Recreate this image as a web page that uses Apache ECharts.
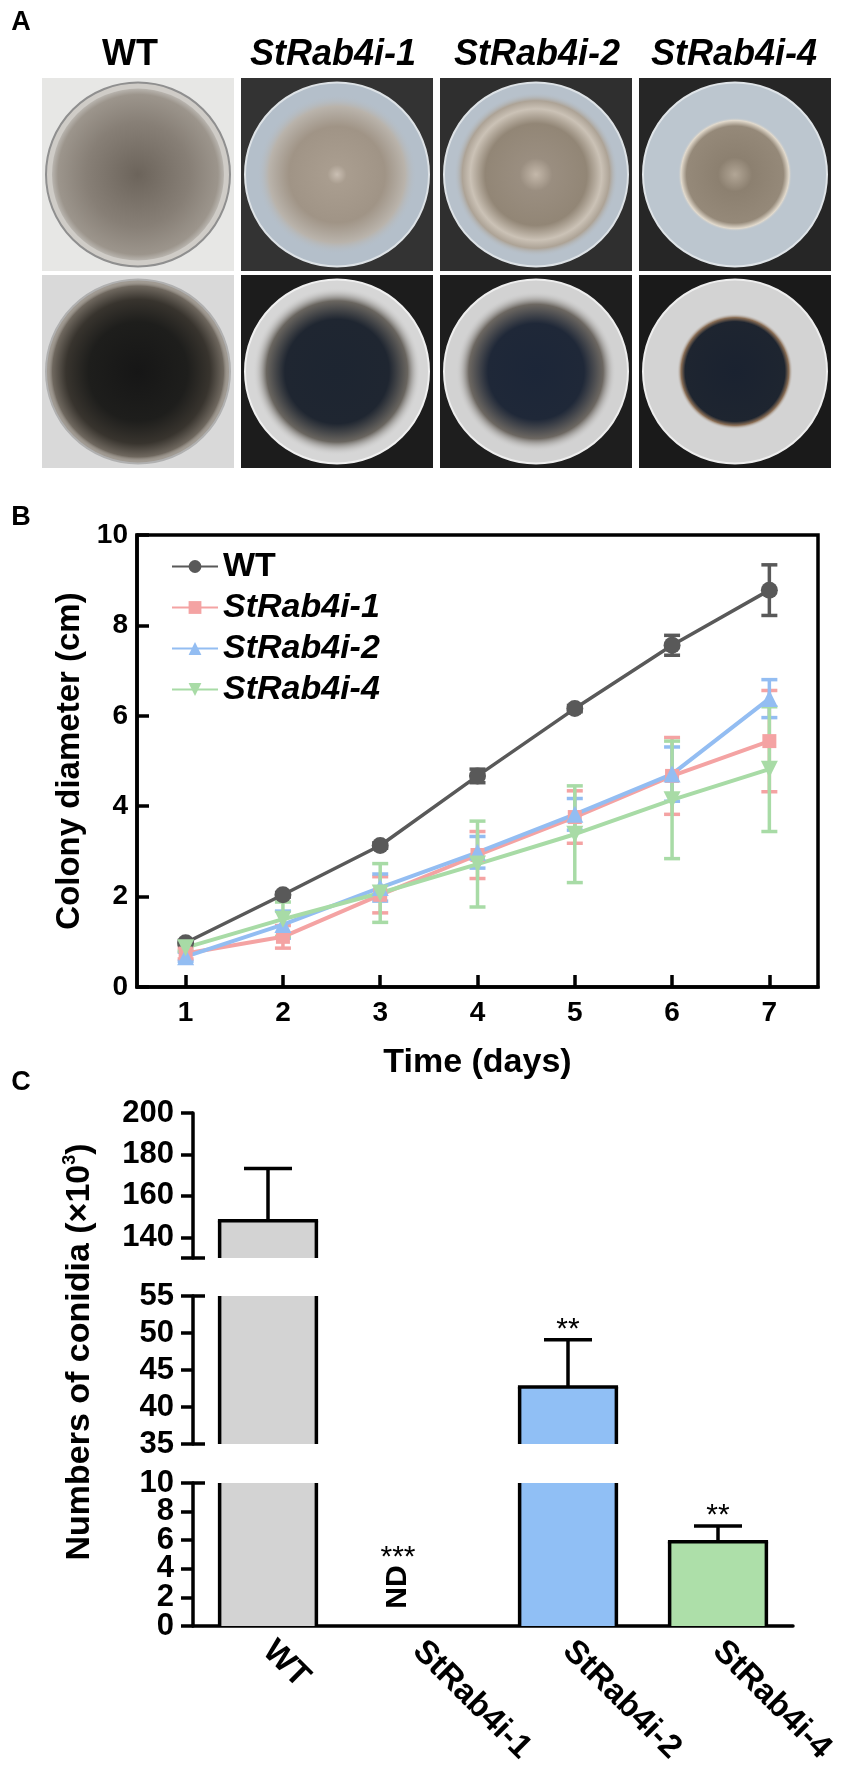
<!DOCTYPE html>
<html>
<head>
<meta charset="utf-8">
<script src="https://cdn.jsdelivr.net/npm/echarts@6/dist/echarts.min.js"></script>
<style>
  html, body { margin: 0; padding: 0; background: #fff; }
  #main { width: 851px; height: 1776px; }
</style>
</head>
<body>
<div id="main"></div>
<script>
// ---- data (B) : colony diameter, cm, mean and SD per day
var days = ['1', '2', '3', '4', '5', '6', '7'];
var wtMean = [0.98, 2.04, 3.13, 4.67, 6.16, 7.56, 8.78];
var wtErr  = [0.05, 0.05, 0.06, 0.15, 0.07, 0.22, 0.56];
var r1Mean = [0.74, 1.11, 2.04, 2.92, 3.76, 4.67, 5.44];
var r1Err  = [0.12, 0.25, 0.40, 0.52, 0.58, 0.85, 1.12];
var r2Mean = [0.67, 1.38, 2.20, 2.98, 3.82, 4.71, 6.38];
var r2Err  = [0.10, 0.30, 0.30, 0.35, 0.35, 0.60, 0.42];
var r4Mean = [0.87, 1.50, 2.08, 2.72, 3.38, 4.14, 4.82];
var r4Err  = [0.08, 0.38, 0.65, 0.95, 1.07, 1.30, 1.38];

// ---- data (C) : numbers of conidia (x10^3)
var strains = ['WT', 'StRab4i-1', 'StRab4i-2', 'StRab4i-4'];
var conidiaMean = [148, 0, 42.7, 5.9];
var conidiaErr  = [25.2, 0, 6.4, 1.1];
var signif = ['', '***', '**', '**'];

var FONT = '"Liberation Sans", Arial, sans-serif';
var lineColors = ['#595959', '#f4a3a3', '#93bdf2', '#a8dba6'];
var barColors = ['#d3d3d3', '#ffffff', '#90bff5', '#addfa9'];

var chart = echarts.init(document.getElementById('main'));

/* panel A : plates drawn as simple shapes */
var plates = [
  // top row
  {bg: '#e7e7e5', dish: '#cfccc7', ring: '#8f8f8f', r: 86, stops: [[0, '#6c645b'], [0.6, '#877f76'], [0.93, '#9c958c'], [1, '#b9b5af']]},
  {bg: '#333333', dish: '#b4bfca', ring: '#dde2e6', r: 80, stops: [[0, '#cabfb3'], [0.12, '#a99d8f'], [0.6, '#a09486'], [0.85, '#b9b3ab'], [1, 'rgba(180,191,202,0)']]},
  {bg: '#2f2f2f', dish: '#b7c1cb', ring: '#dde2e6', r: 82, stops: [[0, '#c4b8aa'], [0.2, '#9a8e80'], [0.62, '#928676'], [0.8, '#cbc2b6'], [0.9, '#ada396'], [1, 'rgba(183,193,203,0)']]},
  {bg: '#262626', dish: '#bcc6cf', ring: '#dfe4e8', r: 57, stops: [[0, '#b2a696'], [0.3, '#8c8070'], [0.85, '#958979'], [0.95, '#e2dacd'], [1, 'rgba(188,198,207,0)']]},
  // bottom row
  {bg: '#d9d9d9', dish: '#a09a92', ring: '#b0b0b0', r: 90, stops: [[0, '#161616'], [0.55, '#1e1e1c'], [0.8, '#38342e'], [0.95, '#6f685f'], [1, 'rgba(160,154,146,0)']]},
  {bg: '#1c1c1c', dish: '#d6d6d6', ring: '#f0f0f0', r: 84, stops: [[0, '#1d2531'], [0.62, '#1f2631'], [0.84, '#6a6660'], [1, 'rgba(214,214,214,0)']]},
  {bg: '#1e1e1e', dish: '#d2d2d2', ring: '#eeeeee', r: 80, stops: [[0, '#1c2638'], [0.6, '#1f2838'], [0.84, '#6d6862'], [1, 'rgba(210,210,210,0)']]},
  {bg: '#1a1a1a', dish: '#d3d3d3', ring: '#eeeeee', r: 58, stops: [[0, '#1a2230'], [0.86, '#1e2530'], [0.93, '#8a6e55'], [1, 'rgba(211,211,211,0)']]}
];

var graphics = [];
plates.forEach(function (p, k) {
  var col = k % 4, row = Math.floor(k / 4);
  var x = 42 + col * 199, y = row === 0 ? 78 : 275, w = 192, h = 193;
  var cx = x + w / 2, cy = y + h / 2;
  graphics.push({type: 'rect', shape: {x: x, y: y, width: w, height: h}, style: {fill: p.bg}, silent: true});
  graphics.push({type: 'circle', shape: {cx: cx, cy: cy, r: 92}, style: {fill: p.dish, stroke: p.ring, lineWidth: 2}, silent: true});
  graphics.push({type: 'circle', shape: {cx: cx, cy: cy, r: p.r}, silent: true,
    style: {fill: {type: 'radial', x: 0.5, y: 0.5, r: 0.5,
      colorStops: p.stops.map(function (s) { return {offset: s[0], color: s[1]}; })}}});
});

var heads = [[130, 'WT', 'normal'], [333, 'StRab4i-1', 'italic'], [537, 'StRab4i-2', 'italic'], [734, 'StRab4i-4', 'italic']];
heads.forEach(function (t) {
  graphics.push({type: 'text', x: t[0], y: 55, silent: true,
    style: {text: t[1], fontSize: 36, fontWeight: 'bold', fontStyle: t[2], fontFamily: FONT, fill: '#000',
      textAlign: 'center', textVerticalAlign: 'middle'}});
});

[['A', 23], ['B', 518], ['C', 1083]].forEach(function (l) {
  graphics.push({type: 'text', x: 21, y: l[1], silent: true,
    style: {text: l[0], fontSize: 27, fontWeight: 'bold', fontFamily: FONT, fill: '#000',
      textAlign: 'center', textVerticalAlign: 'middle'}});
});

// panel C y title
graphics.push({type: 'text', x: 80, y: 1352, rotation: Math.PI / 2, silent: true,
  style: {text: '{a|Numbers of conidia (×10}{s|3}{a|)}', textAlign: 'center', textVerticalAlign: 'middle',
    rich: {
      a: {fontSize: 34, fontWeight: 'bold', fontFamily: FONT, fill: '#000', lineHeight: 38},
      s: {fontSize: 18, fontWeight: 'bold', fontFamily: FONT, fill: '#000', verticalAlign: 'top', lineHeight: 38}
    }}});

/* error bars for B */
function errRender(color) {
  return function (params, api) {
    var x = api.value(0), m = api.value(1), e = api.value(2);
    var hi = api.coord([x, m + e]), lo = api.coord([x, m - e]);
    var w = 8;
    var st = {stroke: color, lineWidth: 3.5};
    return {type: 'group', children: [
      {type: 'line', shape: {x1: hi[0], y1: hi[1], x2: lo[0], y2: lo[1]}, style: st},
      {type: 'line', shape: {x1: hi[0] - w, y1: hi[1], x2: hi[0] + w, y2: hi[1]}, style: st},
      {type: 'line', shape: {x1: lo[0] - w, y1: lo[1], x2: lo[0] + w, y2: lo[1]}, style: st}
    ]};
  };
}

var groups = [
  {name: 'WT', mean: wtMean, err: wtErr, symbol: 'circle', size: 17, rot: 0, lw: 3.5},
  {name: 'StRab4i-1', mean: r1Mean, err: r1Err, symbol: 'rect', size: 14, rot: 0, lw: 4},
  {name: 'StRab4i-2', mean: r2Mean, err: r2Err, symbol: 'triangle', size: 17, rot: 0, lw: 4},
  {name: 'StRab4i-4', mean: r4Mean, err: r4Err, symbol: 'triangle', size: 17, rot: 180, lw: 4}
];

var series = [];
groups.forEach(function (g, k) {
  series.push({
    name: g.name + ' SD', type: 'custom', xAxisIndex: 0, yAxisIndex: 0, silent: true,
    renderItem: errRender(lineColors[k]),
    encode: {x: 0, y: 1},
    data: g.mean.map(function (v, i) { return [i, v, g.err[i]]; }),
    z: 2
  });
  series.push({
    name: g.name, type: 'line', xAxisIndex: 0, yAxisIndex: 0,
    data: g.mean, symbol: g.symbol, symbolSize: g.size, symbolRotate: g.rot,
    itemStyle: {color: lineColors[k]},
    lineStyle: {color: lineColors[k], width: g.lw},
    emphasis: {disabled: true}, animation: false, z: 3
  });
});

/* bars for C, clipped per axis segment */
function barRender(params, api) {
  var idx = api.value(0), v = api.value(1), e = api.value(2);
  var cs = params.coordSys;
  var top = cs.y, bot = cs.y + cs.height;
  var base = api.coord([idx, 0]);
  var pt = api.coord([idx, v]);
  var bw = api.size([1, 0])[0] * 0.645;
  var cx = pt[0], l = cx - bw / 2, r = cx + bw / 2;
  var kids = [];
  var black = {stroke: '#000', lineWidth: 3.5};
  if (v > 0) {
    var yT = Math.max(pt[1], top), yB = Math.min(base[1], bot);
    if (yT < yB) {
      kids.push({type: 'rect', shape: {x: l, y: yT, width: bw, height: yB - yT}, style: {fill: barColors[idx]}});
      kids.push({type: 'line', shape: {x1: l, y1: yT, x2: l, y2: yB}, style: black});
      kids.push({type: 'line', shape: {x1: r, y1: yT, x2: r, y2: yB}, style: black});
      if (pt[1] >= top) {
        kids.push({type: 'line', shape: {x1: l - 1.7, y1: pt[1], x2: r + 1.7, y2: pt[1]}, style: black});
      }
    }
    var et = api.coord([idx, v + e]);
    var y1 = Math.min(pt[1], bot), y2 = Math.max(et[1], top);
    if (e > 0 && y2 < y1) {
      kids.push({type: 'line', shape: {x1: cx, y1: y1, x2: cx, y2: y2}, style: black});
      if (et[1] >= top && et[1] <= bot) {
        kids.push({type: 'line', shape: {x1: cx - 24, y1: et[1], x2: cx + 24, y2: et[1]}, style: black});
        if (signif[idx]) {
          kids.push({type: 'text', style: {text: signif[idx], x: cx, y: et[1] - 10, textAlign: 'center',
            textVerticalAlign: 'middle', fontSize: 30, fontFamily: FONT, fill: '#000'}});
        }
      }
    }
  } else if (base[1] <= bot + 1 && base[1] >= top) {
    kids.push({type: 'text', x: cx - 20, y: base[1] - 39, rotation: Math.PI / 2,
      style: {text: 'ND', x: 0, y: 0, textAlign: 'center', textVerticalAlign: 'middle',
        fontSize: 30, fontWeight: 'bold', fontFamily: FONT, fill: '#000'}});
    kids.push({type: 'text', style: {text: signif[idx], x: cx - 20, y: base[1] - 68, textAlign: 'center',
      textVerticalAlign: 'middle', fontSize: 30, fontFamily: FONT, fill: '#000'}});
  }
  return {type: 'group', children: kids};
}

var conidiaData = strains.map(function (s, i) { return [i, conidiaMean[i], conidiaErr[i]]; });
[1, 2, 3].forEach(function (gi) {
  series.push({
    name: 'conidia' + gi, type: 'custom', xAxisIndex: gi, yAxisIndex: gi, silent: true,
    renderItem: barRender, encode: {x: 0, y: 1}, data: conidiaData, z: 3
  });
});

var axisLine = {show: true, lineStyle: {color: '#000', width: 3.5}};
var tickStyle = {color: '#000', width: 3.5};
var lblB = {color: '#000', fontSize: 28, fontWeight: 'bold', fontFamily: FONT};
var lblC = {color: '#000', fontSize: 31, fontWeight: 'bold', fontFamily: FONT};

// one y axis per segment of the broken axis in C
function segAxis(gi, min, max, tickVals, labelVals) {
  return {
    type: 'value', gridIndex: gi, min: min, max: max,
    axisLine: axisLine, splitLine: {show: false},
    axisTick: {show: true, inside: false, length: 12, lineStyle: tickStyle, customValues: tickVals},
    axisLabel: Object.assign({margin: 19, showMinLabel: true, showMaxLabel: true, customValues: labelVals}, lblC)
  };
}
// extra axis: only ticks (cap marks) or only labels
function helperAxis(gi, min, max, tickVals, inside, labelVals) {
  return {
    type: 'value', gridIndex: gi, min: min, max: max, position: 'left',
    axisLine: {show: false}, splitLine: {show: false},
    axisLabel: labelVals ? Object.assign({margin: 19, showMinLabel: true, showMaxLabel: true, customValues: labelVals}, lblC) : {show: false},
    axisTick: tickVals ? {show: true, inside: inside, length: 12, lineStyle: tickStyle, customValues: tickVals} : {show: false}
  };
}

var option = {
  backgroundColor: '#fff',
  animation: false,
  graphic: graphics,
  legend: {
    data: groups.map(function (g) { return g.name; }),
    orient: 'vertical', left: 166, top: 543, itemWidth: 46, itemHeight: 16, itemGap: 4,
    selectedMode: false,
    formatter: function (n) { return n === 'WT' ? '{n|' + n + '}' : '{i|' + n + '}'; },
    textStyle: {
      fontSize: 34, lineHeight: 37,
      rich: {
        n: {fontSize: 34, fontWeight: 'bold', fontFamily: FONT, color: '#000', lineHeight: 37},
        i: {fontSize: 34, fontWeight: 'bold', fontStyle: 'italic', fontFamily: FONT, color: '#000', lineHeight: 37}
      }
    }
  },
  grid: [
    {left: 137, top: 535, width: 681, height: 452, show: true, borderColor: '#000', borderWidth: 3.5},
    {left: 193, top: 1113, width: 600, height: 145},
    {left: 193, top: 1296, width: 600, height: 148},
    {left: 193, top: 1483, width: 600, height: 143}
  ],
  xAxis: [
    {
      type: 'category', gridIndex: 0, data: days, boundaryGap: true,
      name: 'Time (days)', nameLocation: 'middle', nameGap: 59,
      nameTextStyle: {color: '#000', fontSize: 34, fontWeight: 'bold', fontFamily: FONT},
      axisLine: axisLine,
      axisTick: {show: true, inside: true, alignWithLabel: true, length: 12, lineStyle: tickStyle},
      axisLabel: Object.assign({margin: 12}, lblB)
    },
    {type: 'category', gridIndex: 1, data: strains, show: false},
    {type: 'category', gridIndex: 2, data: strains, show: false},
    {
      type: 'category', gridIndex: 3, data: strains, boundaryGap: true,
      axisLine: axisLine, axisTick: {show: false},
      axisLabel: {margin: 20, rotate: -45, color: '#000', fontSize: 33, fontWeight: 'bold', fontFamily: FONT, interval: 0}
    }
  ],
  yAxis: [
    {
      type: 'value', gridIndex: 0, min: 0, max: 10, interval: 2,
      name: 'Colony diameter (cm)', nameLocation: 'middle', nameGap: 46,
      nameTextStyle: {color: '#000', fontSize: 33, fontWeight: 'bold', fontFamily: FONT},
      axisLine: axisLine, splitLine: {show: false},
      axisTick: {show: true, inside: true, length: 12, lineStyle: tickStyle},
      axisLabel: Object.assign({margin: 9}, lblB)
    },
    segAxis(1, 130, 200, [130, 140, 160, 180, 200], [140, 160, 180, 200]),
    segAxis(2, 35, 55, [35, 40, 45, 50, 55], [35, 40, 45, 50, 55]),
    segAxis(3, 0, 10, [0, 4, 8], [0, 4, 8]),
    helperAxis(1, 130, 200, [130], true),
    helperAxis(2, 35, 55, [35, 55], true),
    helperAxis(3, 0, 10, [10], true),
    helperAxis(3, 0, 10, [2, 6, 10], false, [2, 6, 10])
  ],
  series: series
};

chart.setOption(option);
</script>
</body>
</html>
